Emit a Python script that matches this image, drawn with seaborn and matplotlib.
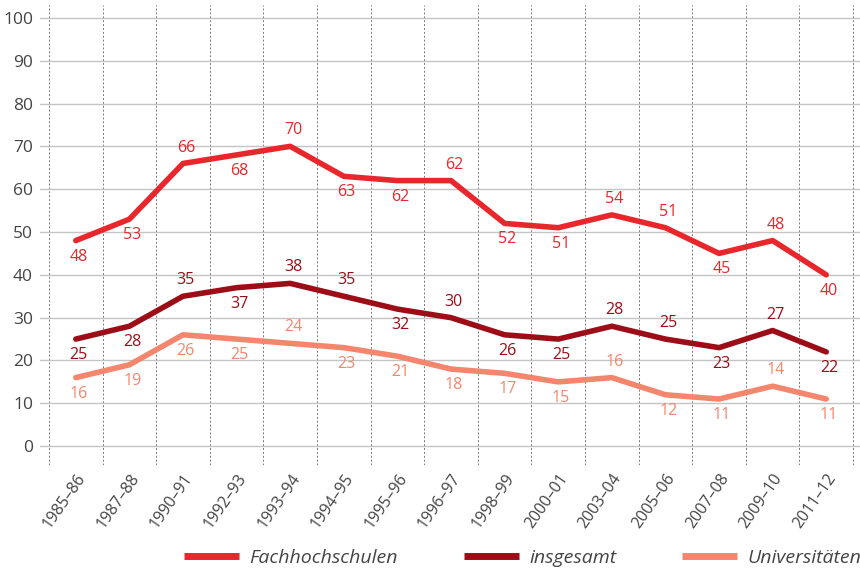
import numpy as np
import pandas as pd
import matplotlib
matplotlib.use("Agg")
import matplotlib.pyplot as plt
import seaborn as sns

periods = ["1985–86", "1987–88", "1990–91", "1992–93", "1993–94", "1994–95",
           "1995–96", "1996–97", "1998–99", "2000–01", "2003–04", "2005–06",
           "2007–08", "2009–10", "2011–12"]
fachhochschulen = [48, 53, 66, 68, 70, 63, 62, 62, 52, 51, 54, 51, 45, 48, 40]
insgesamt = [25, 28, 35, 37, 38, 35, 32, 30, 26, 25, 28, 25, 23, 27, 22]
universitaeten = [16, 19, 26, 25, 24, 23, 21, 18, 17, 15, 16, 12, 11, 14, 11]

# label placement: +1 above the line, -1 below
pos_fh = [-1, -1, 1, -1, 1, -1, -1, 1, -1, -1, 1, 1, -1, 1, -1]
pos_ins = [-1, -1, 1, -1, 1, 1, -1, 1, -1, -1, 1, 1, -1, 1, -1]
pos_uni = [-1, -1, -1, -1, 1, -1, -1, -1, -1, -1, 1, -1, -1, 1, -1]

series = ["Fachhochschulen", "insgesamt", "Universitäten"]
colors = {"Fachhochschulen": "#e8262b", "insgesamt": "#9c0d17", "Universitäten": "#f4866d"}

x = np.arange(len(periods))
df = pd.concat([
    pd.DataFrame({"x": x, "wert": fachhochschulen, "reihe": "Fachhochschulen"}),
    pd.DataFrame({"x": x, "wert": insgesamt, "reihe": "insgesamt"}),
    pd.DataFrame({"x": x, "wert": universitaeten, "reihe": "Universitäten"}),
])

sns.set_style("white")
plt.rcParams["font.family"] = ["Open Sans", "DejaVu Sans"]

fig = plt.figure(figsize=(8.6, 5.69), dpi=100)
ax = fig.add_axes([40 / 860, 1 - 465 / 569, 820 / 860, 460 / 569])

sns.lineplot(data=df, x="x", y="wert", hue="reihe", hue_order=series,
             palette=colors, linewidth=4.0, ax=ax, legend=True)

# value labels
for name, vals, pos in [("Fachhochschulen", fachhochschulen, pos_fh),
                        ("insgesamt", insgesamt, pos_ins),
                        ("Universitäten", universitaeten, pos_uni)]:
    for xi, v, p in zip(x, vals, pos):
        ax.annotate(str(v), (xi, v), xytext=(2, 11.5 * p), textcoords="offset points",
                    ha="center", va="center", fontsize=11.5, color=colors[name])

ax.set_xlim(-0.668, 14.63)
ax.set_ylim(-4.4, 103)
ax.set_yticks(range(0, 101, 10))
ax.set_xticks(x)
ax.set_xticklabels(periods, rotation=55, ha="right", rotation_mode="anchor",
                   fontsize=11.5, color="#444444")
ax.set_xticks(np.arange(-0.5, len(periods), 1.0), minor=True)
ax.tick_params(axis="y", labelsize=12.5, colors="#444444", length=0, pad=5)
ax.tick_params(axis="x", which="both", length=0, pad=4)
ax.grid(False)
ax.grid(axis="y", which="major", color="#c4c4c4", linewidth=1.0)
ax.grid(axis="x", which="minor", color="#777777", linestyle=(0, (2, 2)), linewidth=0.7)
ax.set_axisbelow(True)
for s in ax.spines.values():
    s.set_visible(False)
ax.set_xlabel("")
ax.set_ylabel("")

handles, labels = ax.get_legend_handles_labels()
for h in handles:
    h.set_linewidth(5)
    h.set_solid_capstyle("butt")
ax.legend(handles, labels, loc="center", bbox_to_anchor=(0.608, 0.019),
          bbox_transform=fig.transFigure, ncol=3, frameon=False,
          handlelength=2.8, columnspacing=3.4, handletextpad=0.55,
          prop={"style": "italic", "size": 14})
for t in ax.get_legend().get_texts():
    t.set_color("#444444")

fig.savefig("out.png", dpi=100)
